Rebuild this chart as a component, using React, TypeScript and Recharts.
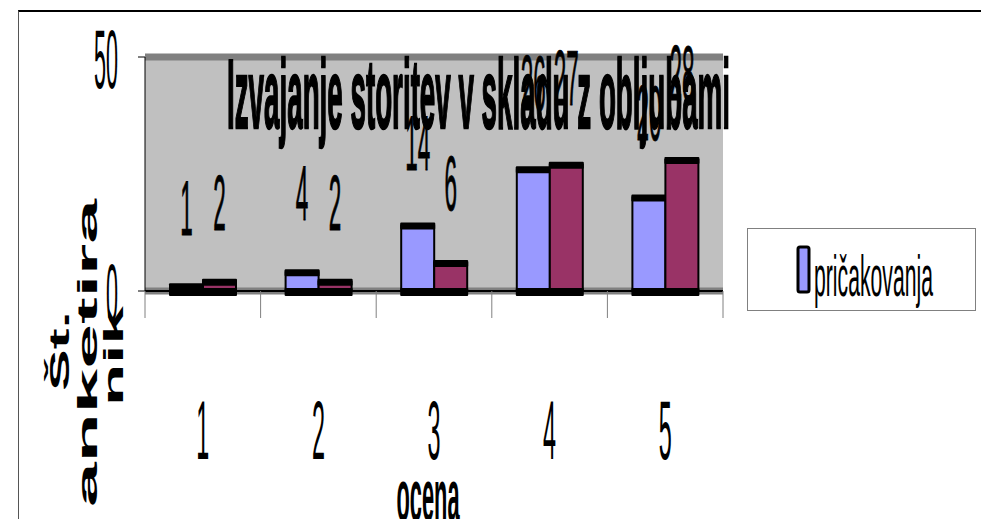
import { BarChart, Bar, XAxis, YAxis, CartesianGrid, Legend, LabelList, Customized } from 'recharts'

const categories = ['1', '2', '3', '4', '5']
const pricakovanja = [1, 4, 14, 26, 20]
const zaznave = [2, 2, 6, 27, 28]
const yTicks = [0, 50]

const data = categories.map((c, i) => ({
  ocena: c,
  pricakovanja: pricakovanja[i],
  zaznave: zaznave[i],
}))

const NARROW = '"Liberation Sans", Arial, sans-serif'

// bar with the heavy black cap and foot of the old spreadsheet rendering
function CapBar(props: any) {
  const { x, y, width, height, fill } = props
  if (width == null || height == null) return null
  const bottom = y + height
  return (
    <g>
      <rect x={x} y={y} width={width} height={height} fill={fill} stroke="#000" strokeWidth={2} />
      <rect x={x - 1} y={y - 3} width={width + 2} height={7} fill="#000" rx={1} />
      <rect x={x - 1} y={bottom - 3} width={width + 2} height={8} fill="#000" rx={1} />
    </g>
  )
}

function TopLabel(props: any) {
  const { x, y, width, value } = props
  const s = String(value)
  return (
    <text
      x={x + width / 2}
      y={y - 51 - Number(value) * 0.32}
      textAnchor="middle"
      fontFamily={NARROW}
      fontSize={78}
      textLength={12.5 * s.length}
      lengthAdjust="spacingAndGlyphs"
      fill="#000"
      stroke="#000"
      strokeWidth={1}
    >
      {s}
    </text>
  )
}

function YTick(props: any) {
  const { x, y, payload } = props
  const s = String(payload.value)
  return (
    <text x={x} y={y} dy={31} textAnchor="end" fontFamily={NARROW} fontSize={84}
      textLength={12 * s.length} lengthAdjust="spacingAndGlyphs" fill="#000">
      {s}
    </text>
  )
}

// category label plus the separator ticks between categories (excel style)
function XTick(props: any) {
  const { x, y, payload, index, visibleTicksCount } = props
  const s = String(payload.value)
  const half = payload.offset ?? 0
  const top = y - 8
  return (
    <g>
      <line x1={x - half} x2={x - half} y1={top} y2={top + 27} stroke="#808080" />
      {index === visibleTicksCount - 1 && (
        <line x1={x + half} x2={x + half} y1={top} y2={top + 27} stroke="#808080" />
      )}
      <text x={x} y={y} dy={160} textAnchor="middle" fontFamily={NARROW} fontSize={84}
        textLength={13 * s.length} lengthAdjust="spacingAndGlyphs" fill="#000">
        {s}
      </text>
    </g>
  )
}

function Decorations() {
  // rotated axis title, stretched along its reading direction
  const yTitle = [
    { text: 'Št.', x: 69, c: 351, len: 80 },
    { text: 'anketira', x: 97, c: 353, len: 308 },
    { text: 'nik', x: 123, c: 356, len: 100 },
  ]
  return (
    <g>
      <text x={227} y={128} fontFamily={NARROW} fontWeight="bold" fontSize={98}
        textLength={503} lengthAdjust="spacingAndGlyphs" fill="#000" stroke="#000" strokeWidth={2.5}>
        Izvajanje storitev v skladu z obljubami
      </text>
      <text x={428} y={521} textAnchor="middle" fontFamily={NARROW} fontWeight="bold" fontSize={75}
        textLength={63} lengthAdjust="spacingAndGlyphs" fill="#000">
        ocena
      </text>
      {yTitle.map((l) => (
        <text key={l.text} transform={`translate(${l.x},${l.c}) rotate(-90)`} textAnchor="middle"
          fontFamily={NARROW} fontWeight="bold" fontSize={27}
          textLength={l.len} lengthAdjust="spacingAndGlyphs" fill="#000">
          {l.text}
        </text>
      ))}
    </g>
  )
}

function LegendBox() {
  return (
    <div style={{ width: 229, height: 83, border: '1.5px solid #808080', background: '#fff', boxSizing: 'border-box' }}>
      <svg width={226} height={80}>
        <rect x={50} y={18} width={11} height={45} rx={2} fill="#9999FF" stroke="#000" strokeWidth={3} />
        <text x={66} y={67} fontFamily={NARROW} fontSize={58} textLength={119}
          lengthAdjust="spacingAndGlyphs" fill="#000">
          pričakovanja
        </text>
      </svg>
    </div>
  )
}

export default function App() {
  return (
    <div style={{ position: 'absolute', left: 0, top: 0, width: 981, height: 519, overflow: 'hidden', background: '#fff' }}>
      <div style={{ position: 'absolute', left: 18, top: 10, width: 1000, height: 520, borderTop: '2px solid #000', borderLeft: '1px solid #555' }} />
      <div style={{ position: 'absolute', left: 0, top: 0 }}>
        <BarChart width={981} height={519} data={data} barGap={0} barSize={33}
          margin={{ top: 57, right: 258, left: 85, bottom: 227 }}>
          <CartesianGrid xAxisId="cat" yAxisId="v" vertical={false} fill="#C0C0C0"
            stroke="#808080" strokeWidth={7} />
          <XAxis xAxisId="cat" dataKey="ocena" height={1} interval={0}
            axisLine={{ stroke: '#000', strokeWidth: 2 }} tickLine={false} tick={<XTick />} />
          <YAxis yAxisId="v" domain={[0, 50]} ticks={yTicks} width={60} interval={0}
            axisLine={{ stroke: '#000' }} tickLine={{ stroke: '#000' }} tickSize={7} tickMargin={20}
            tick={<YTick />} />
          <YAxis yAxisId="r" orientation="right" domain={[0, 50]} width={0}
            axisLine={{ stroke: '#808080', strokeWidth: 3 }} tickLine={false} tick={false} />
          <Bar xAxisId="cat" yAxisId="v" dataKey="pricakovanja" name="pričakovanja" fill="#9999FF"
            shape={<CapBar />} isAnimationActive={false}>
            <LabelList dataKey="pricakovanja" content={<TopLabel />} />
          </Bar>
          <Bar xAxisId="cat" yAxisId="v" dataKey="zaznave" name="zaznave" fill="#993366"
            shape={<CapBar />} legendType="none" isAnimationActive={false}>
            <LabelList dataKey="zaznave" content={<TopLabel />} />
          </Bar>
          <Customized component={Decorations} />
          <Legend layout="horizontal" verticalAlign="middle" content={<LegendBox />}
            wrapperStyle={{ left: 747, top: 228, width: 229, height: 83 }} />
        </BarChart>
      </div>
    </div>
  )
}
